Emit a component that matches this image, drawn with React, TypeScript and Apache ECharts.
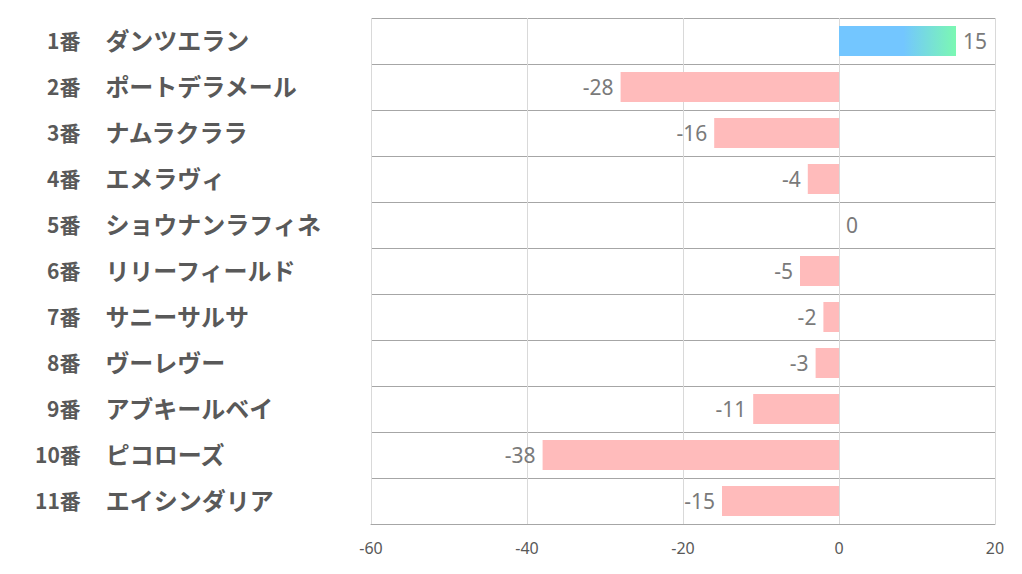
import React, { useEffect, useRef } from "react";
import * as echarts from "echarts";

const numbers = ["1番", "2番", "3番", "4番", "5番", "6番", "7番", "8番", "9番", "10番", "11番"];
const names = [
  "ダンツエラン",
  "ポートデラメール",
  "ナムラクララ",
  "エメラヴィ",
  "ショウナンラフィネ",
  "リリーフィールド",
  "サニーサルサ",
  "ヴーレヴー",
  "アブキールベイ",
  "ピコローズ",
  "エイシンダリア",
];
const values = [15, -28, -16, -4, 0, -5, -2, -3, -11, -38, -15];
const xTicks = [-60, -40, -20, 0, 20];

export default function App() {
  const ref = useRef<HTMLDivElement>(null);
  useEffect(() => {
    if (!ref.current) return;
    const chart = echarts.init(ref.current, undefined, { renderer: "svg" });
    const cats = numbers.map((n, i) => n + "|" + names[i]);
    const base = {
      fontWeight: "bold",
      color: "#595959",
      fontFamily: "Noto Sans CJK JP",
      align: "left",
    };
    chart.setOption({
      animation: false,
      grid: { left: 371, right: 27, top: 18, bottom: 50, containLabel: false },
      xAxis: {
        type: "value",
        min: xTicks[0],
        max: xTicks[xTicks.length - 1],
        interval: 20,
        axisLine: { show: true, onZero: false, lineStyle: { color: "#a6a6a6", width: 1 } },
        axisTick: { show: false },
        axisLabel: { color: "#595959", fontSize: 16, margin: 16, fontFamily: "Noto Sans" },
        splitLine: { show: true, lineStyle: { color: "#d9d9d9", width: 1 } },
      },
      yAxis: {
        type: "category",
        inverse: true,
        data: cats,
        axisLine: { show: false },
        axisTick: { show: false },
        splitLine: { show: true, lineStyle: { color: "#a6a6a6", width: 1 } },
        axisLabel: {
          align: "left",
          margin: 338,
          formatter: (v: string) => {
            const [a, b] = v.split("|");
            const two = a.length > 2;
            return two ? `{a2|${a}}{b2|${b}}` : `{a1|${a}}{b1|${b}}`;
          },
          rich: {
            a1: { ...base, fontSize: 21, padding: [0, 0, 3, 14] },
            a2: { ...base, fontSize: 21, padding: [0, 0, 3, 2] },
            b1: { ...base, fontSize: 24, padding: [0, 0, 3, 25] },
            b2: { ...base, fontSize: 24, padding: [0, 0, 3, 25] },
          },
        },
      },
      series: [
        {
          type: "bar",
          barWidth: 30,
          data: values.map((v) => ({
            value: v,
            itemStyle: {
              color:
                v > 0
                  ? new echarts.graphic.LinearGradient(0, 0, 1, 0, [
                      { offset: 0, color: "#73c6ff" },
                      { offset: 0.55, color: "#73c6ff" },
                      { offset: 1, color: "#7bf8b2" },
                    ])
                  : "#ffbbbb",
            },
            label: {
              show: true,
              position: v < 0 ? "left" : "right",
              distance: 7,
              color: "#7a7a7a",
              fontSize: 21,
              fontFamily: "Noto Sans",
            },
          })),
        },
      ],
    });
    return () => chart.dispose();
  }, []);
  return <div ref={ref} style={{ width: 1022, height: 574, position: "absolute", left: 0, top: 0 }} />;
}
